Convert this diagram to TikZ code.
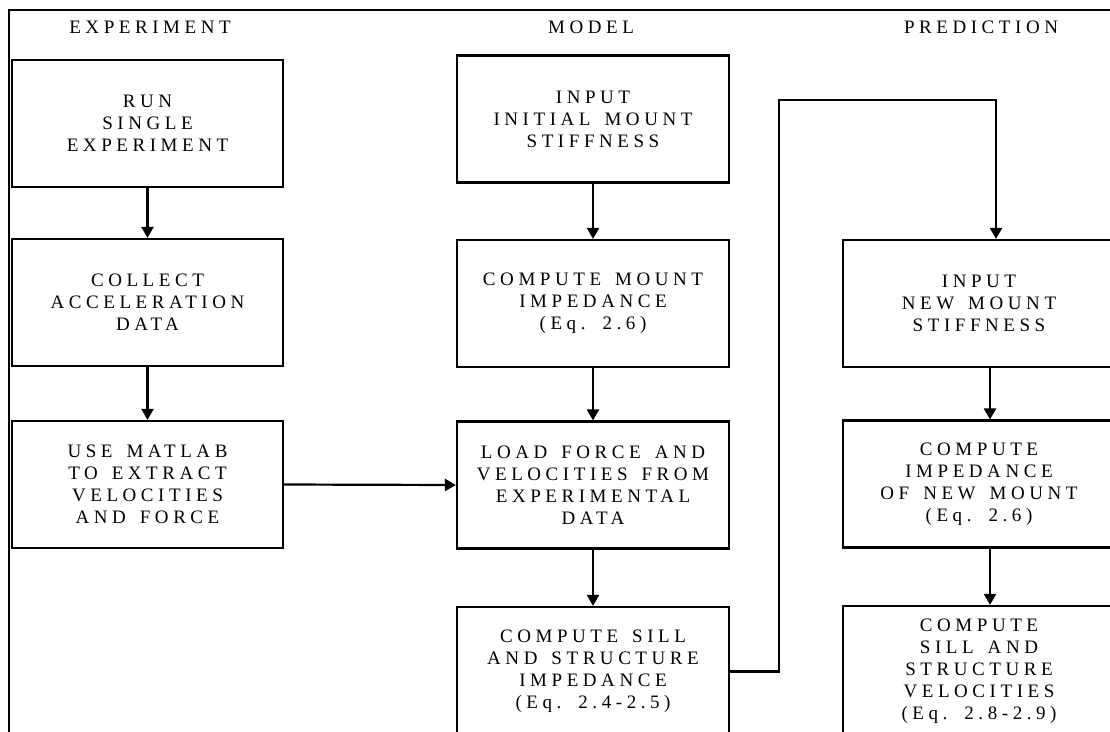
\documentclass[tikz,border=0pt]{standalone}
\usepackage{fontspec}
\setmainfont{Liberation Serif}
\newfontfamily\spaced[LetterSpace=24,WordSpace=1.5]{Liberation Serif}
\usetikzlibrary{arrows.meta}
\begin{document}
\begin{tikzpicture}[x=1pt,y=-1pt,
  txt/.style={font=\spaced\fontsize{19}{22}\selectfont},
  box/.style={txt, draw, line width=2.2pt, minimum width=272pt, minimum height=127pt, align=center, inner sep=0pt},
  title/.style={txt, inner sep=0pt},
  conn/.style={line width=2.2pt},
  arr/.style={conn, -{Triangle[length=11pt,width=12pt]}}]
\useasboundingbox (0,0) rectangle (1110,731);
\clip (0,0) rectangle (1110,731);
\fill[white] (0,0) rectangle (1110,731);
% frame
\draw[line width=2.2pt] (9,740) -- (9,10) -- (1115,10);
% titles
\node[title] (t1) at (150,27) {EXPERIMENT};
\node[title] (t2) at (591,27) {MODEL};
\node[title] (t3) at (981,27) {PREDICTION};
% left column
\node[box, minimum width=271pt] (l1) at (147.5,123.5) {RUN\\SINGLE\\EXPERIMENT};
\node[box, minimum width=271pt] (l2) at (147.5,302.5) {COLLECT\\ACCELERATION\\DATA};
\node[box, minimum width=271pt] (l3) at (147.5,484.5) {USE MATLAB\\TO EXTRACT\\VELOCITIES\\AND FORCE};
% middle column
\node[box] (m1) at (593,119) {INPUT\\INITIAL MOUNT\\STIFFNESS};
\node[box] (m2) at (593,303.5) {COMPUTE MOUNT\\IMPEDANCE\\(Eq. 2.6)};
\node[box] (m3) at (593,485) {LOAD FORCE AND\\VELOCITIES FROM\\EXPERIMENTAL\\DATA};
\node[box, minimum height=129pt] (m4) at (593,671.5) {COMPUTE SILL\\AND STRUCTURE\\IMPEDANCE\\(Eq. 2.4-2.5)};
% right column
\node[box] (r1) at (979,303.5) {INPUT\\NEW MOUNT\\STIFFNESS};
\node[box] (r2) at (979,484) {COMPUTE\\IMPEDANCE\\OF NEW MOUNT\\(Eq. 2.6)};
\node[box, minimum height=130pt] (r3) at (979,671) {COMPUTE\\SILL AND\\STRUCTURE\\VELOCITIES\\(Eq. 2.8-2.9)};
% connectors
\draw[arr] (l1.south) -- (l2.north);
\draw[arr] (l2.south) -- (l3.north);
\draw[arr] (l3.east) -- (m3.west);
\draw[arr] (m1.south) -- (m2.north);
\draw[arr] (m2.south) -- (m3.north);
\draw[arr] (m3.south) -- (m4.north);
\draw[arr] ([xshift=11pt]r1.south) -- ([xshift=11pt]r2.north);
\draw[arr] ([xshift=11pt]r2.south) -- ([xshift=11pt]r3.north);
\coordinate (c1) at (779,100);
\coordinate (c2) at (996,100);
\draw[arr] (m4.east) -| (c1) -- (c2) -- (c2 |- r1.north);
\end{tikzpicture}
\end{document}
